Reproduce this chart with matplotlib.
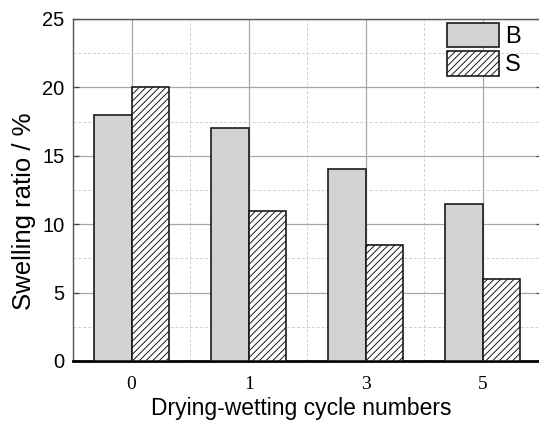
import numpy as np
import matplotlib
matplotlib.use("Agg")
import matplotlib.pyplot as plt
from matplotlib.ticker import MultipleLocator

# swelling ratio per drying-wetting cycle
cycles = ["0", "1", "3", "5"]
swell_B = [18, 17, 14, 11.5]
swell_S = [20, 11, 8.5, 6]

plt.rcParams['hatch.linewidth'] = 0.7
plt.rcParams['hatch.color'] = 'black'

fig = plt.figure(figsize=(5.39, 4.28), dpi=100)
ax = fig.add_axes([73/539., 67/428., 468.5/539., 342/428.])

x = np.arange(len(cycles))
w = 0.32
ax.bar(x - w/2, swell_B, w, color='#d2d3d2', edgecolor='#1a1a1a', linewidth=1.2,
       label='B', zorder=3)
ax.bar(x + w/2, swell_S, w, color='white', edgecolor='#1a1a1a', linewidth=1.2,
       hatch='/////', label='S', zorder=3)

ax.set_xlim(-0.5, 3.5)
ax.set_ylim(0, 25)
ax.set_xticks(x)
ax.set_xticklabels(cycles, family='Liberation Serif', fontsize=14)
ax.xaxis.set_minor_locator(MultipleLocator(0.5))
ax.yaxis.set_major_locator(MultipleLocator(5))
ax.yaxis.set_minor_locator(MultipleLocator(2.5))
ax.set_yticks([0, 5, 10, 15, 20, 25])
ax.set_yticklabels(['0', '5', '10', '15', '20', '25'], family='Liberation Sans',
                   fontsize=14.5)

ax.grid(which='major', color='#a8a8a8', linewidth=0.9, zorder=0)
ax.grid(which='minor', color='#d0d0d0', linestyle=(0, (3, 2)), linewidth=0.7, zorder=0)
ax.set_axisbelow(True)

ax.tick_params(which='major', direction='in', length=4, width=0.9, color='#444444',
               right=True, top=False, bottom=False)
ax.tick_params(axis='y', which='major', pad=6)
ax.tick_params(axis='x', which='major', pad=11)
ax.tick_params(which='minor', length=0)

for s in ['left', 'top', 'right']:
    ax.spines[s].set_color('#555555')
    ax.spines[s].set_linewidth(1.0)
ax.spines['bottom'].set_color('black')
ax.spines['bottom'].set_linewidth(2.0)

ax.set_xlabel('Drying-wetting cycle numbers', family='Liberation Sans', fontsize=16.5)
ax.xaxis.set_label_coords(0.487, -0.105)
ax.set_ylabel('Swelling ratio / %', family='Liberation Sans', fontsize=18.5)
ax.yaxis.set_label_coords(-0.08, 0.438)

leg = ax.legend(loc='upper left', bbox_to_anchor=((447 - 73) / 468.5, 0.989),
                frameon=False, prop={'family': 'Liberation Sans', 'size': 17},
                handlelength=2.2, handleheight=1.2, labelspacing=0.15,
                handletextpad=0.25, borderaxespad=0.0, borderpad=0.0)

fig.savefig('out.png', dpi=100)
